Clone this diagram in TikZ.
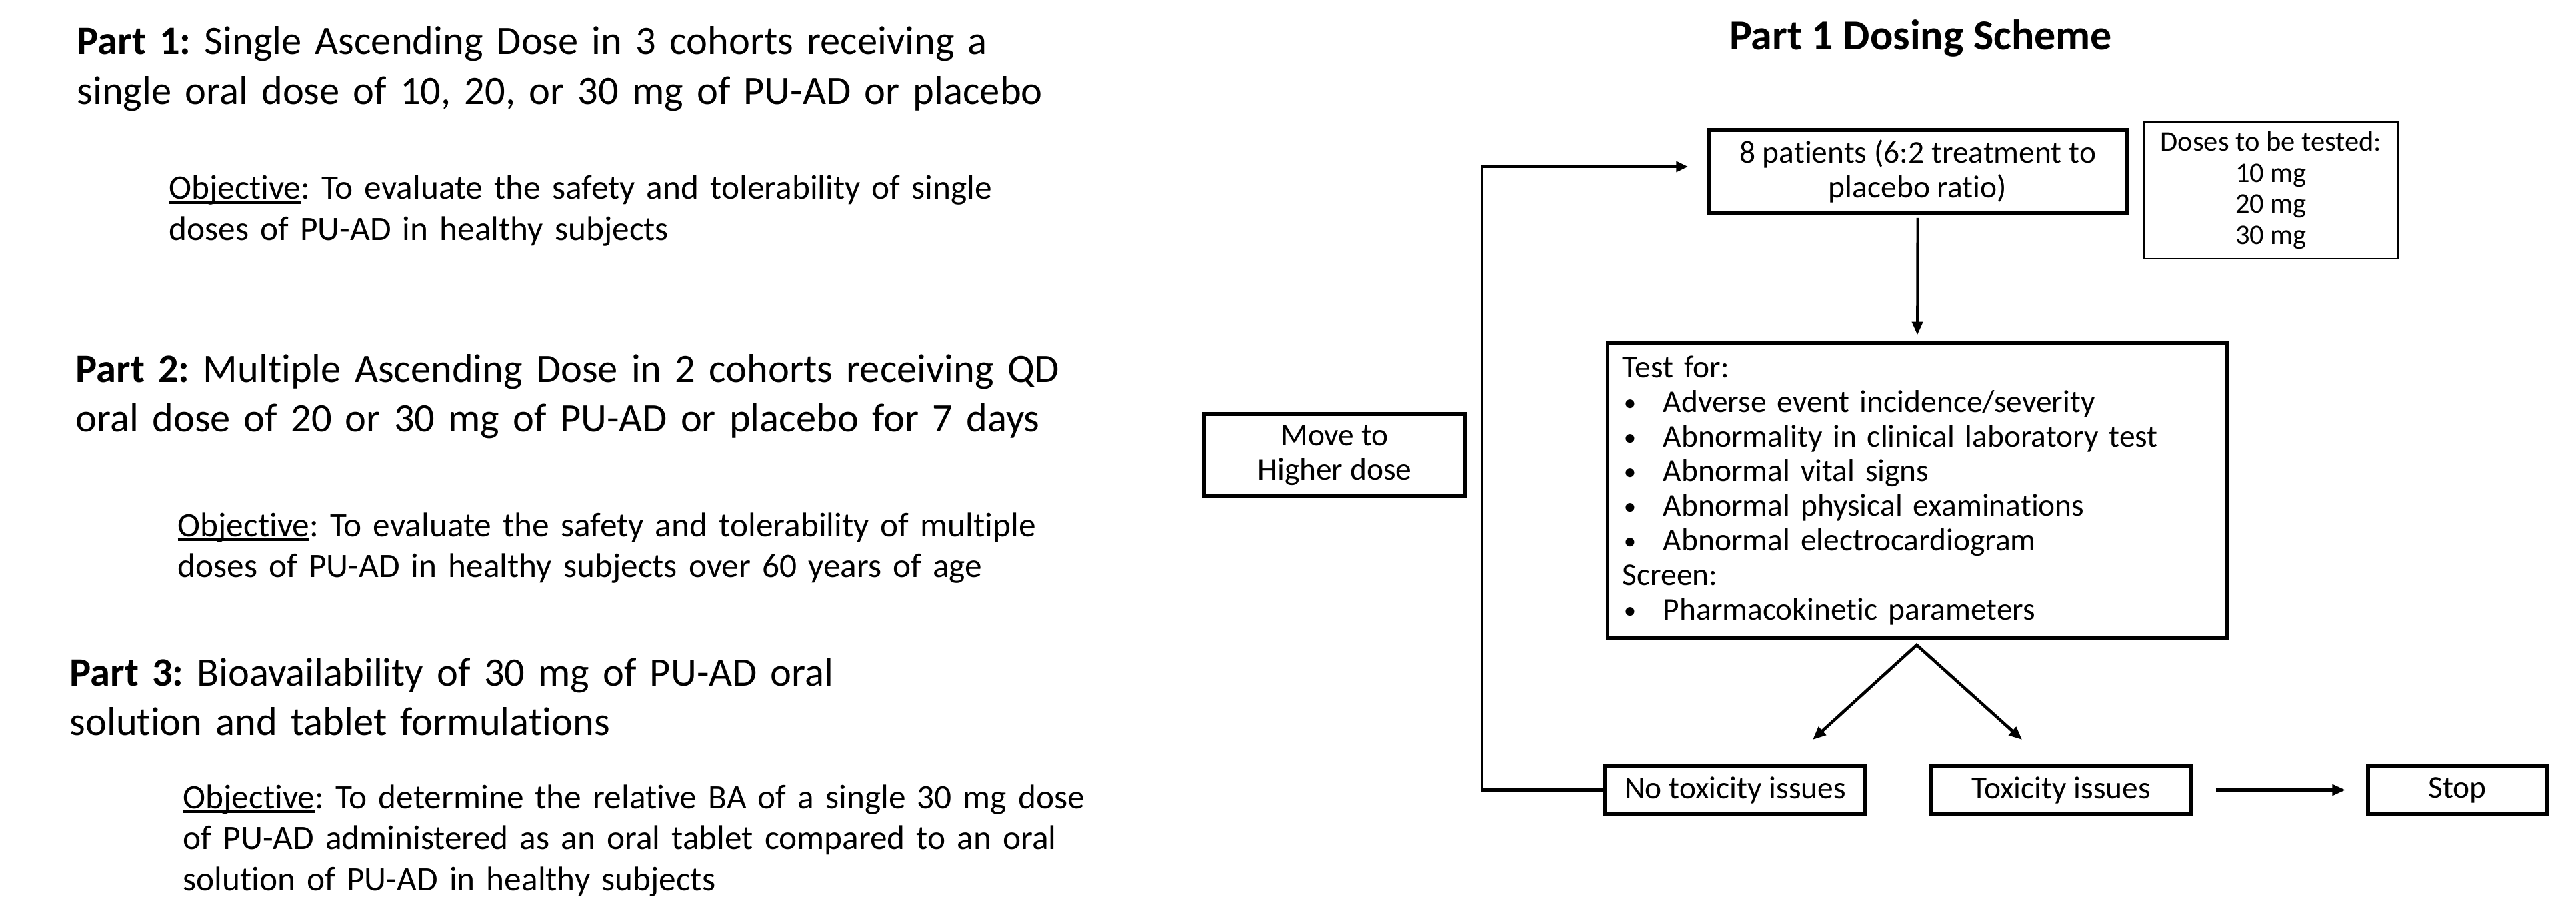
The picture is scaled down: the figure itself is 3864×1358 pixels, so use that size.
\documentclass[tikz,border=0pt]{standalone}
\usepackage{fontspec}
\setmainfont{Carlito}[Ligatures=NoCommon]
\usepackage{tikz}
\usetikzlibrary{arrows.meta,calc}
\frenchspacing
\newcommand{\titlesize}{\fontsize{18.2}{21.3}\selectfont}
\newcommand{\partsize}{\fontsize{17.2}{21.3}\selectfont}
\newcommand{\objsize}{\fontsize{14.6}{17.6}\selectfont}
\newcommand{\boxsize}{\fontsize{13.5}{14.8}\selectfont}
\newcommand{\dosesize}{\fontsize{12.1}{13.2}\selectfont}
\newcommand{\bul}{\makebox[0.61cm][l]{\hspace{0.02cm}\raisebox{0.1ex}{\fontsize{10.5}{10.5}\selectfont\textbullet}}}
\newcommand{\objword}{{\setbox0\hbox{Objective}\rlap{\rule[-0.13em]{\wd0}{0.065em}}\box0}}

\begin{document}
\begin{tikzpicture}[x=0.01cm, y=-0.01cm,
    lefttext/.style={anchor=base west, inner sep=0pt, text width=17cm, align=left},
    thickbox/.style={draw, line width=1.6pt, inner sep=0pt, align=center, font=\boxsize},
    flow/.style={line width=1.3pt, -{Triangle[length=5.6pt,width=4.6pt]}}]
  \useasboundingbox (0,0) rectangle (3864,1358);
  % study parts
  \node[lefttext, font=\partsize] (part1) at (115,82) {\textbf{Part 1:} Single Ascending Dose in 3 cohorts receiving a\\single oral dose of 10, 20, or 30 mg of PU-AD or placebo};
  \node[lefttext, font=\objsize] (obj1) at (253,299) {\objword: To evaluate the safety and tolerability of single\\doses of PU-AD in healthy subjects};
  \node[lefttext, font=\partsize] (part2) at (113,573) {\textbf{Part 2:} Multiple Ascending Dose in 2 cohorts receiving QD\\oral dose of 20 or 30 mg of PU-AD or placebo for 7 days};
  \node[lefttext, font=\objsize] (obj2) at (266,805) {\objword: To evaluate the safety and tolerability of multiple\\doses of PU-AD in healthy subjects over 60 years of age};
  \node[lefttext, font=\partsize] (part3) at (104,1029) {\textbf{Part 3:} Bioavailability of 30 mg of PU-AD oral\\solution and tablet formulations};
  \node[lefttext, font=\objsize] (obj3) at (274,1213) {\objword: To determine the relative BA of a single 30 mg dose\\of PU-AD administered as an oral tablet compared to an oral\\solution of PU-AD in healthy subjects};

  % dosing scheme
  \node[anchor=base, font=\bfseries\titlesize] (title) at (2881,75) {Part 1 Dosing Scheme};
  \node[thickbox, minimum width=6.27cm, minimum height=1.24cm] (pat) at (2876.5,257) {8 patients (6:2 treatment to\\placebo ratio)};
  \node[draw, line width=0.6pt, inner sep=0pt, align=center, font=\dosesize, minimum width=3.81cm, minimum height=2.05cm] (doses) at (3406.5,285.5) {Doses to be tested:\\10 mg\\20 mg\\30 mg};
  \node[thickbox, line width=1.5pt, minimum width=9.28cm, minimum height=4.42cm, text width=8.84cm, align=left] (test) at (2876,736) {Test for:\\\bul Adverse event incidence/severity\\\bul Abnormality in clinical laboratory test\\\bul Abnormal vital signs\\\bul Abnormal physical examinations\\\bul Abnormal electrocardiogram\\Screen:\\\bul Pharmacokinetic parameters};
  \node[thickbox, minimum width=3.92cm, minimum height=1.24cm] (move) at (2002,683) {Move to\\Higher dose};
  \node[thickbox, minimum width=3.90cm, minimum height=0.73cm] (notox) at (2603,1185.5) {No toxicity issues};
  \node[thickbox, minimum width=3.91cm, minimum height=0.73cm] (tox) at (3091.5,1185.5) {Toxicity issues};
  \node[thickbox, minimum width=2.68cm, minimum height=0.73cm] (stop) at (3686,1185.5) {Stop};

  \coordinate (turn) at (2223,250);
  \coordinate (patin) at (2532,250);
  \coordinate (split) at (2875,968);
  \coordinate (nogo) at (2719,1110);
  \coordinate (go) at (3033,1110);

  \draw[flow, line width=1.1pt, shorten <=0.05cm, shorten >=0.1cm] (pat.south) -- (test.north);
  \draw[line width=1.15pt, -{Triangle[length=5pt,width=4.4pt]}] (notox.west) -| (turn) -- (patin);
  \draw[flow, {Triangle[length=5.6pt,width=4.6pt]}-{Triangle[length=5.6pt,width=4.6pt]}] (nogo) -- (split) -- (go);
  \draw[flow, shorten <=0.34cm, shorten >=0.31cm] (tox.east) -- (stop.west);
\end{tikzpicture}
\end{document}
